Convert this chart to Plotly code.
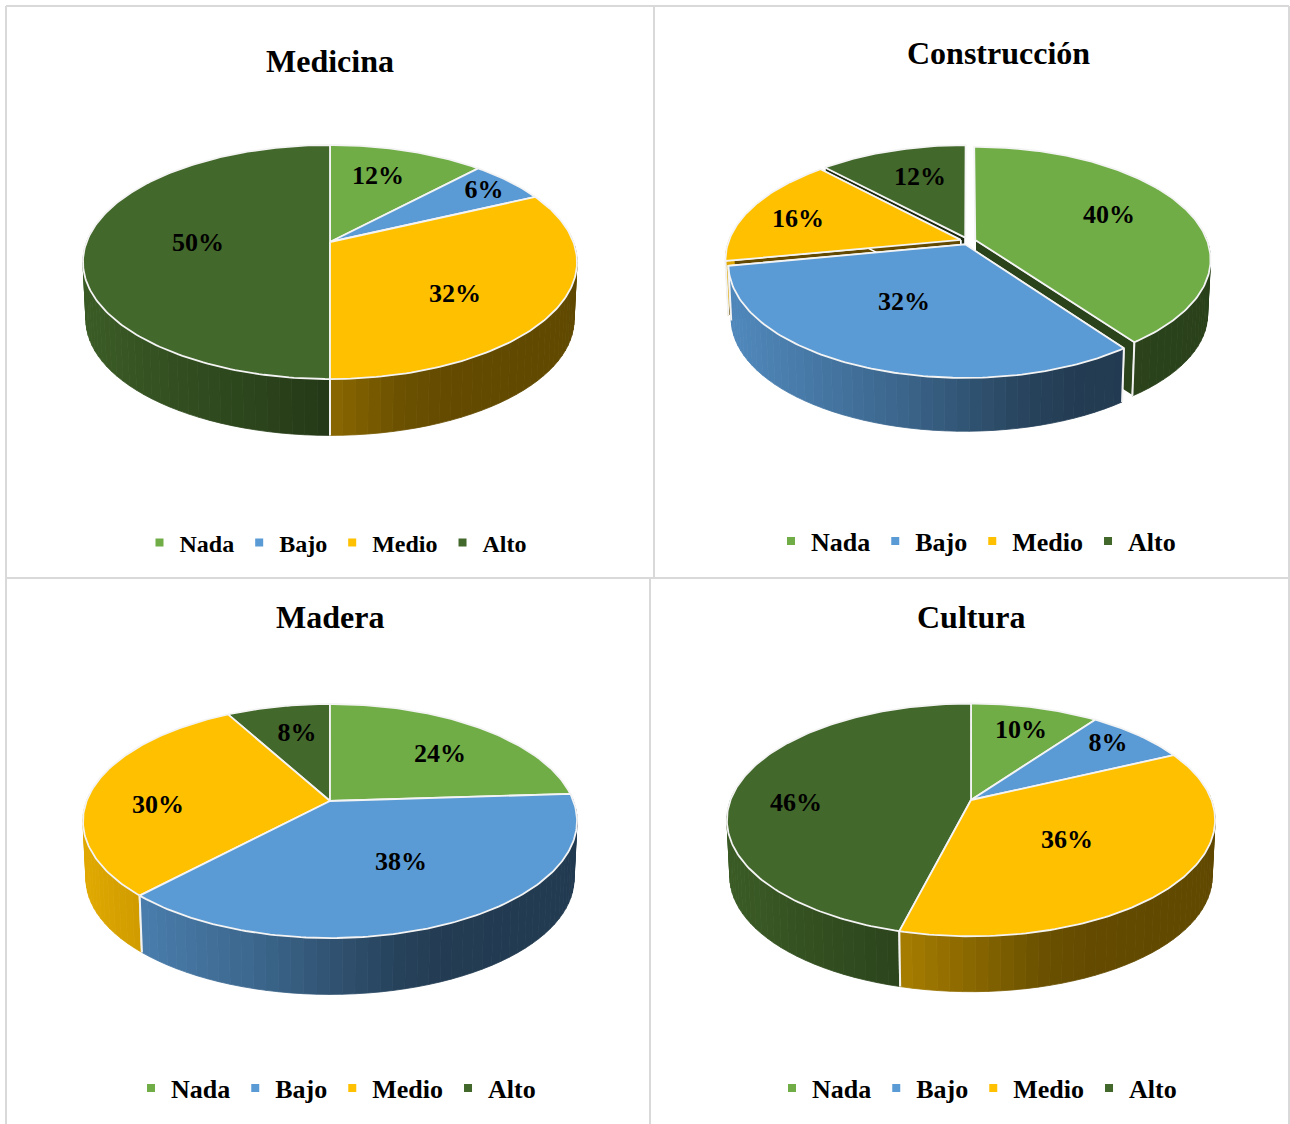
import numpy as np
import plotly.graph_objects as go

# ---------- data ----------
categories = ["Nada", "Bajo", "Medio", "Alto"]
titles = ["Medicina", "Construcción", "Madera", "Cultura"]
medicina = [12, 6, 32, 50]
construccion = [40, 32, 16, 12]
madera = [24, 38, 30, 8]
cultura = [10, 8, 36, 46]
series = [medicina, construccion, madera, cultura]

# ---------- style / layout constants (pixels in the 1290x1124 page) ----------
W, H = 1290, 1124
colors = ["#70AD47", "#5B9BD5", "#FFC000", "#43682B"]
FONT = "Liberation Serif, Times New Roman, serif"
panels = [(6, 654, 6, 578), (654, 1289, 6, 578), (6, 650, 578, 1124), (650, 1289, 578, 1124)]
apex = [(330, 242), (968, 241), (330, 801), (971, 800)]
radius = [243.4, 232, 243.4, 240.5]
depth_r = [113.6, 109.4, 113.6, 113.0]   # vertical half-axis of the tilted disc
drop = [58, 55, 58, 57]                   # height of the pie wall
explode = [0, 0.033, 0, 0]
K = 0.171                                  # perspective strength
BOTTOM = 0.988
title_pos = [(330, 61), (998, 53), (330, 617), (971, 617)]
legend_pos = [(336, 543), (976, 541), (336, 1088), (977, 1088)]
legend_size = [24, 26, 26, 26]
label_offsets = [
    [(48, -65), (154, -51), (125, 53), (-132, 2)],
    [(141, -25), (-64, 62), (-170, -21), (-48, -63)],
    [(110, -46), (71, 62), (-172, 5), (-33, -67)],
    [(50, -69), (137, -56), (96, 41), (-175, 4)],
]


def shade(u):
    return np.interp(u, [-1, -0.3, 0, 0.3, 0.5, 1], [0.88, 0.66, 0.54, 0.42, 0.39, 0.38])


def scaled(hexcol, f):
    r, g, b = int(hexcol[1:3], 16), int(hexcol[3:5], 16), int(hexcol[5:7], 16)
    return f"rgb({int(r * f)},{int(g * f)},{int(b * f)})"


def project(X, Y, t, d=0.0, bottom=False):
    s = 1 / (1 + K * Y)
    x, y = X * s, Y * s * t
    if bottom:
        x, y = x * BOTTOM, y * BOTTOM - d
    return x, y


fig = go.Figure()
layout = {}

for i, values in enumerate(series):
    sfx = "" if i == 0 else str(i + 1)
    xa, ya = f"x{sfx}", f"y{sfx}"
    x0, x1, y0, y1 = panels[i]
    cx, cy = apex[i]
    R = radius[i]
    t = depth_r[i] / R
    d = drop[i] / R
    layout[f"xaxis{sfx}"] = dict(domain=[x0 / W, x1 / W], range=[(x0 - cx) / R, (x1 - cx) / R],
                                 visible=False, fixedrange=True, anchor=ya)
    layout[f"yaxis{sfx}"] = dict(domain=[1 - y1 / H, 1 - y0 / H], range=[(cy - y1) / R, (cy - y0) / R],
                                 visible=False, fixedrange=True, anchor=xa)

    fr = np.cumsum([0] + values) / sum(values) * 2 * np.pi
    slices = []
    for j in range(len(values)):
        mid = (fr[j] + fr[j + 1]) / 2
        slices.append((np.cos(mid), j, mid))
    slices.sort(key=lambda a: -a[0])

    def poly(xs, ys, fill, line, width):
        fig.add_trace(go.Scatter(x=xs, y=ys, mode="lines", fill="toself", fillcolor=fill,
                                 line=dict(color=line, width=width), xaxis=xa, yaxis=ya,
                                 hoverinfo="skip", showlegend=False))

    for _, j, mid in slices:
        a0, a1 = fr[j], fr[j + 1]
        ex, ey = explode[i] * np.sin(mid), explode[i] * np.cos(mid)
        col = colors[j]
        # radial walls are only visible when slices are pulled apart
        if explode[i] > 0:
            for a in (a0, a1):
                tx, ty = project(np.array([ex, ex + np.sin(a)]), np.array([ey, ey + np.cos(a)]), t)
                bx, by = project(np.array([ex, ex + np.sin(a)]), np.array([ey, ey + np.cos(a)]), t, d, True)
                poly(list(tx) + list(bx[::-1]) + [tx[0]], list(ty) + list(by[::-1]) + [ty[0]],
                     scaled(col, 0.39), "white", 1.5)
        # outer wall as thin strips, shaded left to right
        n = max(2, int(np.degrees(a1 - a0) / 2.5))
        edges = np.linspace(a0, a1, n + 1)
        for p, q in zip(edges[:-1], edges[1:]):
            if np.cos((p + q) / 2) + ey > 0.08:
                continue
            aa = np.array([p, q])
            X, Y = ex + np.sin(aa), ey + np.cos(aa)
            tx, ty = project(X, Y, t)
            bx, by = project(X, Y, t, d, True)
            c = scaled(col, shade(float(tx.mean())))
            poly(list(tx) + list(bx[::-1]) + [tx[0]], list(ty) + list(by[::-1]) + [ty[0]], c, c, 0.8)
        # white seams on the wall
        for a in (a0, a1):
            if np.cos(a) + ey < 0.05:
                X, Y = ex + np.sin(a), ey + np.cos(a)
                tx, ty = project(X, Y, t)
                bx, by = project(X, Y, t, d, True)
                fig.add_trace(go.Scatter(x=[tx, bx], y=[ty, by], mode="lines",
                                         line=dict(color="#f2f2f2", width=2), xaxis=xa, yaxis=ya,
                                         hoverinfo="skip", showlegend=False))
        # top face
        arc = np.linspace(a0, a1, max(3, int(np.degrees(a1 - a0))))
        X = np.concatenate([[ex], ex + np.sin(arc), [ex]])
        Y = np.concatenate([[ey], ey + np.cos(arc), [ey]])
        tx, ty = project(X, Y, t)
        poly(tx.tolist(), ty.tolist(), col, "#f4f4f4", 1.8)

    # percentage labels
    lx = [o[0] / R for o in label_offsets[i]]
    ly = [-o[1] / R for o in label_offsets[i]]
    fig.add_trace(go.Scatter(x=lx, y=ly, mode="text", text=[f"{v}%" for v in values],
                             textposition="middle center", hoverinfo="skip", showlegend=False,
                             textfont=dict(family=FONT, size=26, color="black", weight=700),
                             xaxis=xa, yaxis=ya))

    # legend
    lname = f"legend{sfx}"
    for name, col in zip(categories, colors):
        fig.add_trace(go.Scatter(x=[None], y=[None], mode="markers", name=name, legend=lname,
                                 marker=dict(symbol="square", size=8, color=col),
                                 xaxis=xa, yaxis=ya, hoverinfo="skip"))
    lx0, ly0 = legend_pos[i]
    layout[lname] = dict(orientation="h", x=lx0 / W, y=1 - ly0 / H, xanchor="center", yanchor="middle",
                         xref="paper", yref="paper", bgcolor="rgba(0,0,0,0)",
                         font=dict(family=FONT, size=legend_size[i], color="black", weight=700),
                         itemwidth=30, tracegroupgap=0, traceorder="normal", itemclick=False,
                         itemdoubleclick=False)

annotations = [dict(text=tt, x=p[0] / W, y=1 - p[1] / H, xref="paper", yref="paper", showarrow=False,
                    xanchor="center", yanchor="middle",
                    font=dict(family=FONT, size=32, color="black", weight=700))
               for tt, p in zip(titles, title_pos)]

GRID = "#d9d9d9"
def hline(y, a, b):
    return dict(type="line", xref="paper", yref="paper", x0=a / W, x1=b / W, y0=1 - y / H, y1=1 - y / H,
                line=dict(color=GRID, width=2))
def vline(x, a, b):
    return dict(type="line", xref="paper", yref="paper", x0=x / W, x1=x / W, y0=1 - a / H, y1=1 - b / H,
                line=dict(color=GRID, width=2))
shapes = [hline(6, 6, 1289), hline(578, 6, 1289), vline(6, 6, 1124), vline(1289, 6, 1124),
          vline(654, 6, 578), vline(650, 578, 1124)]

fig.update_layout(width=W, height=H, margin=dict(l=0, r=0, t=0, b=0), paper_bgcolor="white",
                  plot_bgcolor="rgba(0,0,0,0)", annotations=annotations, shapes=shapes, **layout)
fig.write_html("out.html", post_script="document.body.style.margin='0';",
               config={"displayModeBar": False})
